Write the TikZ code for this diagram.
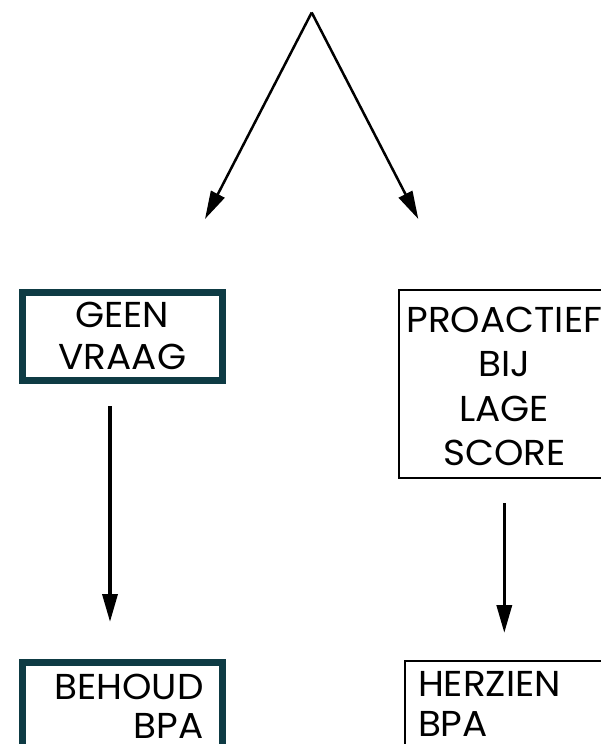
\documentclass[tikz,border=0pt]{standalone}
\usepackage{fontspec}
\setmainfont{Poppins}[FakeStretch=1.04]
\usetikzlibrary{arrows.meta}
\definecolor{boxteal}{HTML}{0E3B44}
\tikzset{
  flowarrow/.style={-{Triangle[length=28pt,width=15pt]}, line width=#1, black},
  flowarrow/.default=2.5pt,
  thickbox/.style={draw=boxteal, line width=7pt, anchor=north west, inner ysep=0pt},
  thinbox/.style={draw=black, line width=2pt, anchor=north west, inner ysep=0pt},
  boxtext/.style={font=\fontsize{36}{#1}\selectfont},
}
\begin{document}
\begin{tikzpicture}[x=1pt,y=-1pt]
  \useasboundingbox (0,0) rectangle (601,744);
  \clip (0,0) rectangle (601,744);

  % split point and the two branch ends
  \coordinate (split) at (311.7,12.5);
  \coordinate (leftend) at (205,219);
  \coordinate (rightend) at (418.3,219);

  % left column
  \node[thickbox, boxtext=41.7pt, inner xsep=0pt, text width=200.7pt, align=center,
        text height=35.8pt, text depth=53pt] (geen) at (18.5,288.5) {GEEN\\VRAAG};
  \node[thickbox, boxtext=39.5pt, inner xsep=19.2pt, text width=162.3pt, align=right,
        text height=37pt, text depth=100pt] (behoud) at (18.5,658.5) {BEHOUD\\BPA};

  % right column
  \node[thinbox, boxtext=44.5pt, inner xsep=0pt, text width=210pt, align=center,
        text height=41.7pt, text depth=146pt] (proactief) at (398.3,289.3) {PROACTIEF\\BIJ\\LAGE\\SCORE};
  \node[thinbox, boxtext=39.5pt, inner xsep=13.3pt, text width=200pt, align=left,
        text height=35.2pt, text depth=100pt] (herzien) at (403.7,660.3) {HERZIEN\\BPA};

  % arrow ends below and above the boxes
  \coordinate (geenout) at (110,406);
  \coordinate (behoudin) at (110,622);
  \coordinate (proout) at (504.3,503);
  \coordinate (herzienin) at (504.3,633);

  \draw[flowarrow] (split) -- (leftend);
  \draw[flowarrow] (split) -- (rightend);
  \draw[flowarrow=3.5pt] (geenout) -- (behoudin);
  \draw[flowarrow=3.5pt] (proout) -- (herzienin);
\end{tikzpicture}
\end{document}
